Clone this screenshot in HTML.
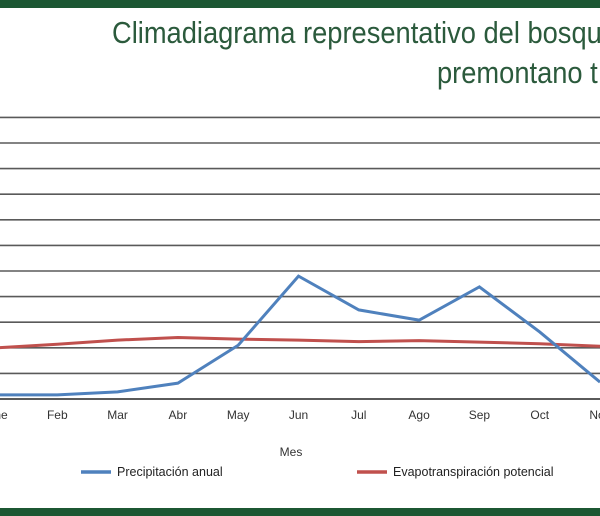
<!DOCTYPE html>
<html><head><meta charset="utf-8"><style>
body{margin:0;width:600px;height:516px;overflow:hidden;background:#fff;font-family:"Liberation Sans",sans-serif;position:relative}
#tw{position:absolute;left:0;top:0;width:600px;height:110px;overflow:hidden}
.t{position:absolute;color:#2b5a3c;font-size:31px;white-space:nowrap;transform:scaleX(0.88);transform-origin:0 0}
</style></head><body>
<div style="position:absolute;left:0;top:0;width:600px;height:8px;background:#1c5733"></div>
<div id="tw">
<div class="t" style="left:112px;top:15px">Climadiagrama representativo del bosque</div>
<div class="t" style="left:437px;top:55px">premontano t</div>
</div>
<svg id="c" width="600" height="516" style="position:absolute;left:0;top:0"></svg>
<div style="position:absolute;left:0;top:508px;width:600px;height:8px;background:#1c5733"></div>
<script>
const months=["Ene","Feb","Mar","Abr","May","Jun","Jul","Ago","Sep","Oct","Nov"];
const precip=[8,8,14,31,105,240,174,154,219,131,33];
const evap=[100,107,115,120,117,115,112,114,111,108,103];
const gridVals=[0,50,100,150,200,250,300,350,400,450,500,550];
const svg=document.getElementById('c');const NS="http://www.w3.org/2000/svg";
const x=i=>-3+i*60.3;const y=v=>399-v*(25.6/50);
function mk(t,a){const e=document.createElementNS(NS,t);for(const k in a)e.setAttribute(k,a[k]);svg.appendChild(e);return e;}
gridVals.forEach(v=>{const l=mk('line',{x1:0,x2:600,y1:y(v),y2:y(v),stroke:'#5a5a5a','stroke-width':v===0?2:1.6});

});
months.forEach((m,i)=>{const t=mk('text',{x:x(i),y:419,'text-anchor':'middle','font-size':12,fill:'#333'});t.textContent=m;

});
function line(d,c,n){const p=mk('polyline',{points:d.map((v,i)=>x(i)+','+y(v)).join(' '),fill:'none',stroke:c,'stroke-width':3,'stroke-linejoin':'miter'});

}
line(evap,'#c0504d','evap-line');
line(precip,'#4f81bd','precip-line');
const xt=mk('text',{x:291,y:456,'text-anchor':'middle','font-size':12,fill:'#333'});xt.textContent='Mes';


const l1=mk('line',{x1:81,x2:111,y1:472,y2:472,stroke:'#4f81bd','stroke-width':3.5});


const t1=mk('text',{x:117,y:476,'font-size':12.5,fill:'#222'});t1.textContent='Precipitación anual';


const l2=mk('line',{x1:357,x2:387,y1:472,y2:472,stroke:'#c0504d','stroke-width':3.5});


const t2=mk('text',{x:393,y:476,'font-size':12.5,fill:'#222'});t2.textContent='Evapotranspiración potencial';


</script>
</body></html>
